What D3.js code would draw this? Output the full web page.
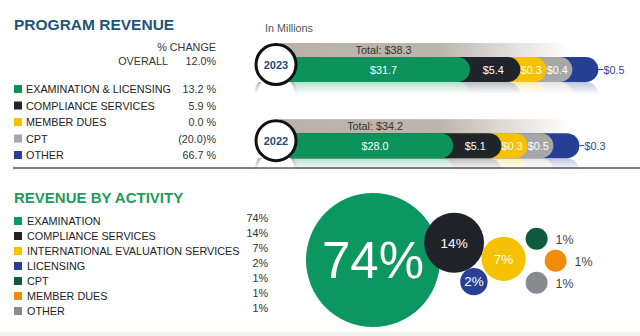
<!DOCTYPE html>
<html>
<head>
<meta charset="utf-8">
<script src="https://cdn.jsdelivr.net/npm/d3@7"></script>
<style>
  html, body { margin: 0; padding: 0; background: #fff; }
  svg { display: block; font-family: "Liberation Sans", Arial, sans-serif; }
</style>
</head>
<body>
<script>
// program revenue (in millions)
const revenueCats = ["EXAMINATION & LICENSING", "COMPLIANCE SERVICES", "MEMBER DUES", "CPT", "OTHER"]
const revenueColors = ["#0b935b", "#20252c", "#f6c100", "#a7a7a7", "#243f93"]
const pctChange = ["13.2 %", "5.9 %", "0.0 %", "(20.0)%", "66.7 %"]
const overallChange = "12.0%"
const years = ["2023", "2022"]
const totals = [38.3, 34.2]
const rev2023 = [31.7, 5.4, 0.3, 0.4, 0.5]
const rev2022 = [28.0, 5.1, 0.3, 0.5, 0.3]

// revenue by activity
const activities = ["EXAMINATION", "COMPLIANCE SERVICES", "INTERNATIONAL EVALUATION SERVICES", "LICENSING", "CPT", "MEMBER DUES", "OTHER"]
const activityPct = [74, 14, 7, 2, 1, 1, 1]
const activityColors = ["#0c9660", "#1f2329", "#f5c102", "#283f95", "#0f5b3d", "#f08c0a", "#878b90"]

const W = 640, H = 336
const svg = d3.select("body").append("svg").attr("width", W).attr("height", H)
const defs = svg.append("defs")

const fmt = d => "$" + d3.format(".1f")(d)

// ---------- top left: titles + legend ----------
svg.append("text").attr("x", 14).attr("y", 30)
  .attr("font-size", 15.5).attr("font-weight", "bold").attr("fill", "#1d5577")
  .text("PROGRAM REVENUE")

svg.append("text").attr("x", 216).attr("y", 51).attr("text-anchor", "end")
  .attr("font-size", 10.8).attr("fill", "#333").text("% CHANGE")
svg.append("text").attr("x", 168).attr("y", 65).attr("text-anchor", "end")
  .attr("font-size", 10.8).attr("fill", "#333").text("OVERALL")
svg.append("text").attr("x", 216).attr("y", 65).attr("text-anchor", "end")
  .attr("font-size", 10.8).attr("fill", "#333").text(overallChange)

let revY = d3.scalePoint().domain(revenueCats).range([89, 155])
let revLegend = svg.append("g").selectAll("g").data(revenueCats).enter().append("g")
  .attr("transform", d => `translate(0,${revY(d)})`)
revLegend.append("rect").attr("x", 14).attr("y", -4).attr("width", 8).attr("height", 8)
  .attr("fill", (d, i) => revenueColors[i])
revLegend.append("text").attr("x", 26).attr("y", 4).attr("font-size", 10.8).attr("fill", "#222").text(d => d)
revLegend.append("text").attr("x", 216).attr("y", 4).attr("text-anchor", "end")
  .attr("font-size", 10.8).attr("fill", "#333").text((d, i) => pctChange[i])

svg.append("line").attr("x1", 13).attr("x2", W).attr("y1", 168).attr("y2", 168)
  .attr("stroke", "#555").attr("stroke-width", 1.5)

// ---------- top right: stacked pill bars ----------
svg.append("text").attr("x", 265).attr("y", 32).attr("font-size", 10.8).attr("fill", "#555").text("In Millions")

const x0 = 280, barH = 25, minW = 26
let wScale = d3.scalePow().exponent(0.75).domain([0, 31.7]).range([0, 190])
let yBar = d3.scaleBand().domain(years).range([57, 156]).paddingInner(0.7)

let totGrad = defs.append("linearGradient").attr("id", "totGrad")
  .attr("gradientUnits", "userSpaceOnUse").attr("x1", x0).attr("x2", 570).attr("y1", 0).attr("y2", 0)
totGrad.append("stop").attr("offset", 0).attr("stop-color", "#bab2aa")
totGrad.append("stop").attr("offset", 0.55).attr("stop-color", "#bdb6ae")
totGrad.append("stop").attr("offset", 1).attr("stop-color", "#fff")

let reflGrad = defs.append("linearGradient").attr("id", "reflGrad").attr("x1", 0).attr("x2", 0).attr("y1", 0).attr("y2", 1)
reflGrad.append("stop").attr("offset", 0).attr("stop-color", "#fff").attr("stop-opacity", 0.3)
reflGrad.append("stop").attr("offset", 1).attr("stop-color", "#fff").attr("stop-opacity", 0)

let yearData = [rev2023, rev2022]

years.forEach((yr, k) => {
  let vals = yearData[k]
  let top = yBar(yr)
  let ends = []
  let acc = x0
  vals.forEach(v => { acc += Math.max(wScale(v), minW); ends.push(acc) })
  let starts = [x0 + 17].concat(ends.slice(0, -1))
  let g = svg.append("g")

  // total band
  g.append("rect").attr("x", x0).attr("y", top - 14).attr("width", 290).attr("height", 14)
    .attr("fill", "url(#totGrad)")

  // reflection
  let maskId = "refl" + yr
  defs.append("mask").attr("id", maskId).append("rect")
    .attr("x", 0).attr("y", top + barH).attr("width", W).attr("height", 12).attr("fill", "url(#reflGrad)")
  let rg = g.append("g").attr("mask", `url(#${maskId})`)
  d3.range(vals.length).reverse().forEach(i => {
    rg.append("rect").attr("x", x0).attr("y", top + barH).attr("width", ends[i] - x0).attr("height", barH)
      .attr("rx", barH / 2).attr("fill", revenueColors[i])
  })
  rg.append("circle").attr("cx", 276).attr("cy", top + barH + 12).attr("r", 20)
    .attr("fill", "#fff").attr("stroke", "#111").attr("stroke-width", 3)

  // segments drawn back to front so each rounded end overlaps the next
  d3.range(vals.length).reverse().forEach(i => {
    g.append("rect").attr("x", x0).attr("y", top).attr("width", ends[i] - x0).attr("height", barH)
      .attr("rx", barH / 2).attr("fill", revenueColors[i])
  })

  let last = vals.length - 1
  vals.slice(0, last).forEach((v, i) => {
    g.append("text").attr("x", (starts[i] + ends[i]) / 2 - (i > 0 ? 2 : 0)).attr("y", top + 17)
      .attr("text-anchor", "middle").attr("font-size", 10.8).attr("fill", "#fff").text(fmt(v))
  })
  g.append("line").attr("x1", ends[last]).attr("x2", ends[last] + 5)
    .attr("y1", top + barH / 2).attr("y2", top + barH / 2).attr("stroke", revenueColors[last])
  g.append("text").attr("x", ends[last] + 5).attr("y", top + barH / 2 + 4)
    .attr("font-size", 10.8).attr("fill", "#2d4597").text(fmt(vals[last]))

  g.append("text").attr("x", (starts[0] + ends[0]) / 2).attr("y", top - 3)
    .attr("text-anchor", "middle").attr("font-size", 10.8).attr("fill", "#333").text("Total: " + fmt(totals[k]))

  // year badge
  g.append("circle").attr("cx", 276).attr("cy", top + barH / 2 - 5).attr("r", 20)
    .attr("fill", "#fff").attr("stroke", "#111").attr("stroke-width", 3)
  g.append("text").attr("x", 276).attr("y", top + barH / 2 - 1).attr("text-anchor", "middle")
    .attr("font-size", 11).attr("font-weight", "bold").attr("fill", "#1d4f73").text(yr)
})

// ---------- bottom left: activity legend ----------
svg.append("text").attr("x", 14).attr("y", 203)
  .attr("font-size", 15).attr("font-weight", "bold").attr("fill", "#1f9a5c")
  .text("REVENUE BY ACTIVITY")

let actY = d3.scalePoint().domain(activities).range([221, 311])
let actLegend = svg.append("g").selectAll("g").data(activities).enter().append("g")
  .attr("transform", d => `translate(0,${actY(d)})`)
actLegend.append("rect").attr("x", 14).attr("y", -4).attr("width", 8).attr("height", 8)
  .attr("fill", (d, i) => activityColors[i])
actLegend.append("text").attr("x", 27).attr("y", 4).attr("font-size", 10.8).attr("fill", "#222").text(d => d)
actLegend.append("text").attr("x", 268).attr("y", 1).attr("text-anchor", "end")
  .attr("font-size", 10.8).attr("fill", "#333").text((d, i) => activityPct[i] + "%")

// ---------- bottom right: bubbles ----------
let rScale = d3.scalePow().exponent(0.55).domain([1, 74]).range([11, 67])
let bubbles = activities.map((a, i) => ({ name: a, pct: activityPct[i], r: rScale(activityPct[i]), color: activityColors[i] }))

// place each bubble against an anchor bubble at a given angle
function touch(b, anchor, deg, overlap) {
  let d = anchor.r + b.r - (overlap || 0)
  let a = deg * Math.PI / 180
  b.x = anchor.x + d * Math.cos(a)
  b.y = anchor.y + d * Math.sin(a)
}
bubbles[0].x = 306 + bubbles[0].r
bubbles[0].y = 260
touch(bubbles[1], bubbles[0], -12, 14)
touch(bubbles[2], bubbles[1], 18)
touch(bubbles[3], bubbles[1], 63)
let smallY = d3.scalePoint().domain([4, 5, 6]).range([bubbles[2].y - 20, bubbles[2].y + 24])
;[4, 5, 6].forEach(i => {
  bubbles[i].x = bubbles[2].x + 33 + (i === 5 ? 19 : 0)
  bubbles[i].y = smallY(i)
})

let bg = svg.append("g")
bg.selectAll("circle").data(bubbles).enter().append("circle")
  .attr("cx", d => d.x).attr("cy", d => d.y).attr("r", d => d.r).attr("fill", d => d.color)

let fontSize = d => d.pct > 50 ? 51 : 13.5
bg.selectAll("text").data(bubbles).enter().append("text")
  .attr("x", d => d.r > 12 ? d.x : d.x + d.r + 8)
  .attr("y", d => d.y + fontSize(d) * 0.36)
  .attr("text-anchor", d => d.r > 12 ? "middle" : "start")
  .attr("font-size", d => d.r > 12 ? fontSize(d) : 12.5)
  .attr("fill", d => d.r > 12 ? "#fff" : "#444")
  .text(d => d.pct + "%")

// faint footer band
svg.append("rect").attr("x", 0).attr("y", 332).attr("width", W).attr("height", 4).attr("fill", "#f5f4f1")
</script>
</body>
</html>
